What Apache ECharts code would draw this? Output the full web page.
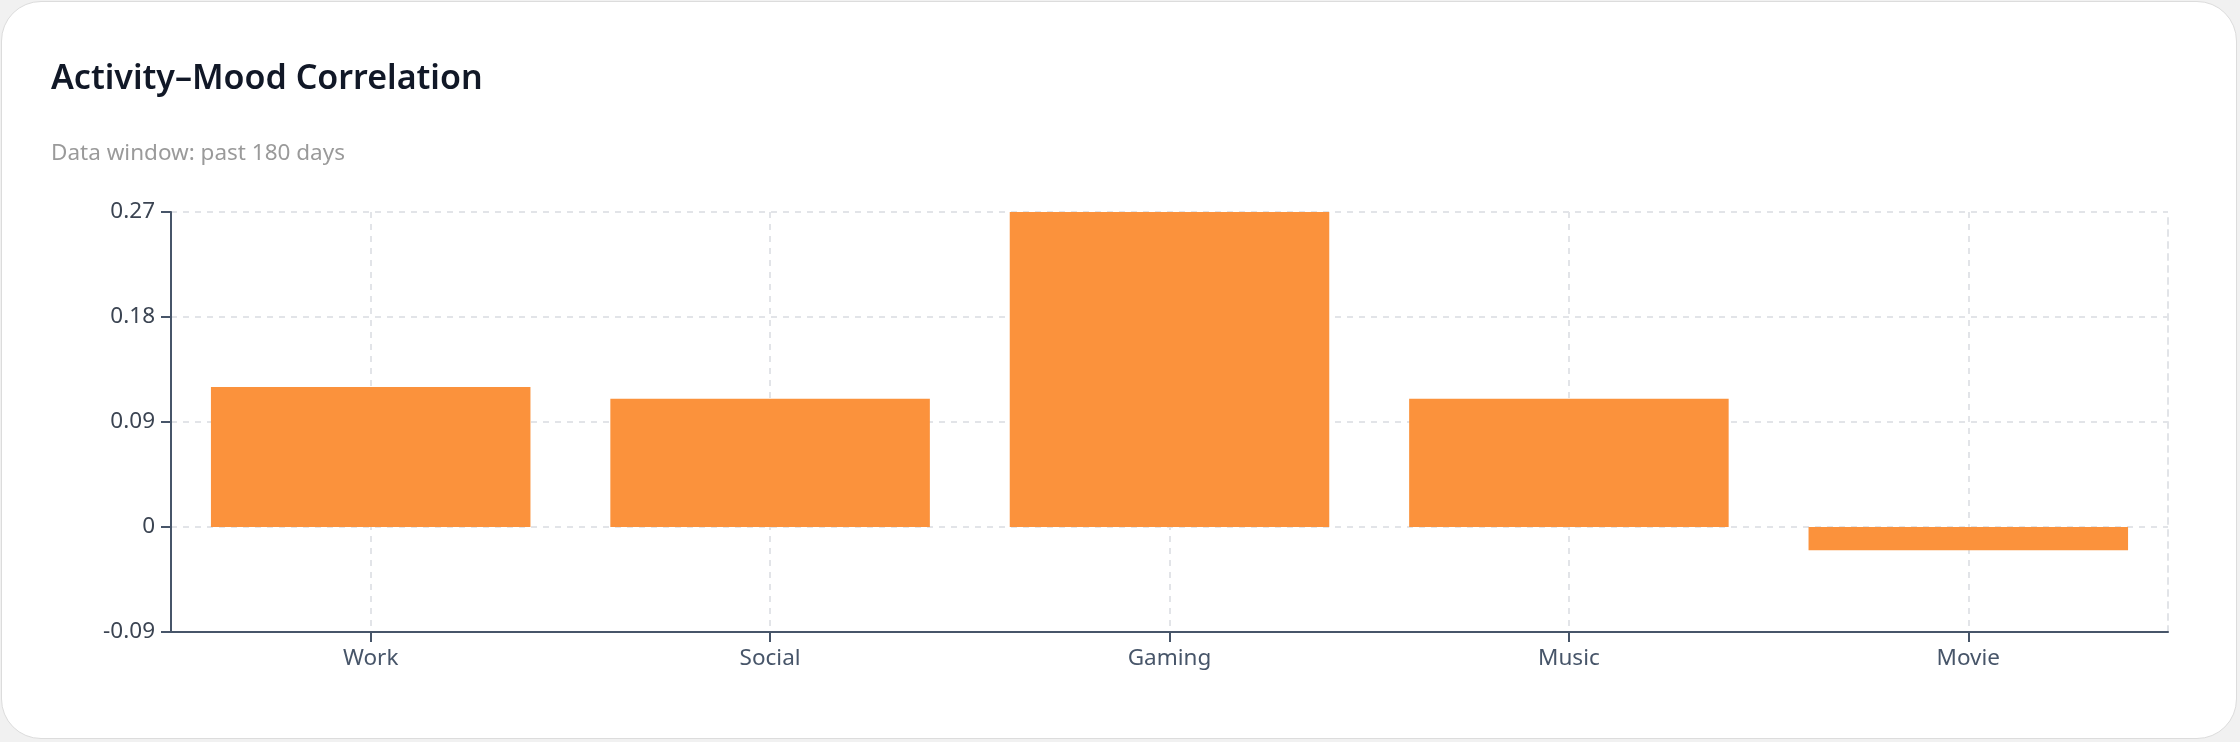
<!DOCTYPE html>
<html>
<head>
<meta charset="utf-8">
<script src="https://cdn.jsdelivr.net/npm/echarts@6/dist/echarts.min.js"></script>
<style>
  html, body { margin: 0; padding: 0; background: #f1f1f1; width: 2240px; height: 742px; overflow: hidden; }
  #card { position: absolute; left: 1px; top: 1px; width: 2236px; height: 738px; background: #ffffff; border: 1px solid #dcdcdc; border-radius: 40px; box-sizing: border-box; overflow: hidden; }
  #chart { width: 100%; height: 100%; }
</style>
</head>
<body>
<div id="card"><div id="chart"></div></div>
<script>
const titleText = 'Activity–Mood Correlation';
const subtitleText = 'Data window: past 180 days';
const categories = ['Work', 'Social', 'Gaming', 'Music', 'Movie'];
const correlations = [0.12, 0.11, 0.27, 0.11, -0.02];
const yMin = -0.09;
const yMax = 0.27;
const yInterval = 0.09;

const font = '"Noto Sans", "Open Sans", sans-serif';
const gridLine = { color: '#e2e4e8', type: [6, 6], width: 2 };
const chart = echarts.init(document.getElementById('chart'), null, { renderer: 'canvas' });
chart.setOption({
  animation: false,
  title: [
    { text: titleText, left: 44, top: 55, textStyle: { fontFamily: font, fontSize: 34, fontWeight: 600, color: '#111827' } },
    { text: subtitleText, left: 44, top: 135, textStyle: { fontFamily: font, fontSize: 22.5, fontWeight: 400, color: '#9a9a9a' } }
  ],
  grid: { left: 169, right: 68, top: 210, bottom: 106, containLabel: false },
  xAxis: {
    type: 'category',
    data: categories,
    axisLine: { onZero: false, lineStyle: { color: '#475569', width: 2 } },
    axisTick: { show: true, alignWithLabel: true, length: 10, lineStyle: { color: '#475569', width: 2 } },
    axisLabel: { fontFamily: font, fontSize: 22.5, color: '#475569', margin: 15 },
    splitLine: { show: true, alignWithLabel: true, lineStyle: gridLine }
  },
  yAxis: [{
    type: 'value',
    min: yMin,
    max: yMax,
    interval: yInterval,
    axisLine: { show: true, lineStyle: { color: '#475569', width: 2 } },
    axisTick: { show: true, length: 10, lineStyle: { color: '#475569', width: 2 } },
    axisLabel: { fontFamily: font, fontSize: 22.5, color: '#3b4452', margin: 16 },
    splitLine: { show: true, lineStyle: gridLine }
  }, {
    type: 'value',
    position: 'right',
    min: yMin,
    max: yMax,
    interval: yInterval,
    axisLine: { show: true, lineStyle: gridLine },
    axisTick: { show: false },
    axisLabel: { show: false },
    splitLine: { show: false }
  }],
  series: [{
    type: 'bar',
    data: correlations,
    barWidth: '80%',
    itemStyle: { color: '#fb923c' }
  }]
});
</script>
</body>
</html>
